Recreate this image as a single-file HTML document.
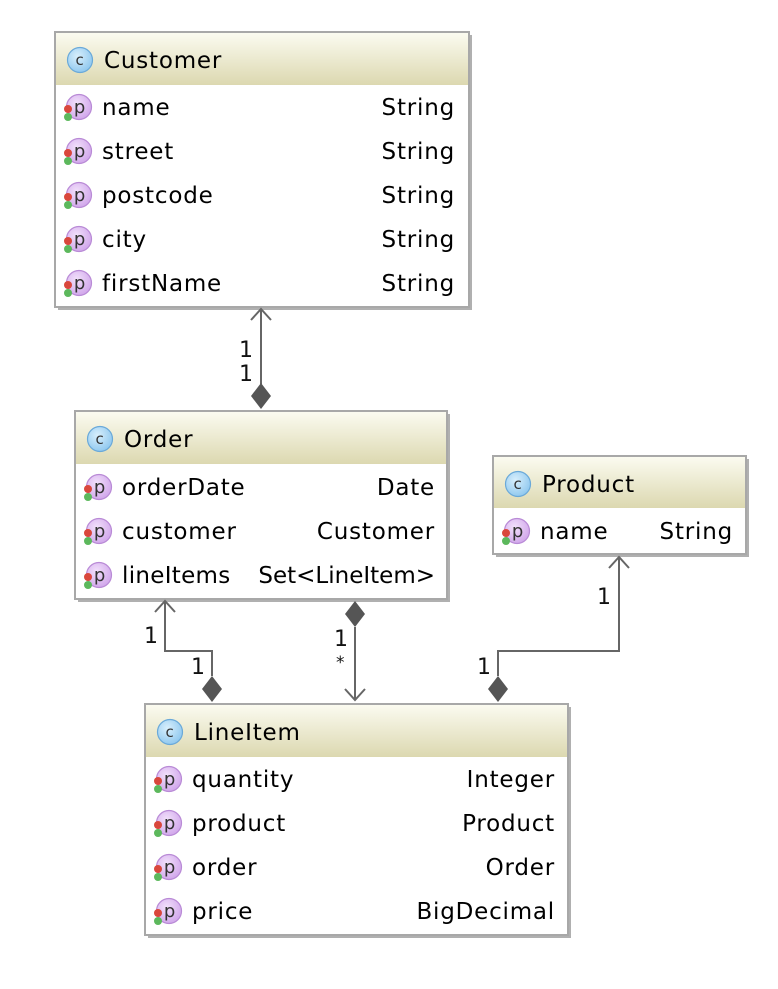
<!DOCTYPE html>
<html><head><meta charset="utf-8"><style>
body{margin:0;background:#fff;}
svg text{font-family:"DejaVu Sans","Liberation Sans",sans-serif;}
</style></head><body>
<svg width="778" height="984" viewBox="0 0 778 984" xmlns="http://www.w3.org/2000/svg">
<defs>
<linearGradient id="hg" x1="0" y1="0" x2="0" y2="1">
<stop offset="0" stop-color="#fbfbf0"/><stop offset="1" stop-color="#dcd8b0"/>
</linearGradient>
<radialGradient id="cg" cx="0.4" cy="0.35" r="0.7"><stop offset="0" stop-color="#d8effc"/><stop offset="1" stop-color="#8cc6ee"/></radialGradient>
<radialGradient id="pg" cx="0.4" cy="0.35" r="0.7"><stop offset="0" stop-color="#f2e0fb"/><stop offset="1" stop-color="#cfa4ea"/></radialGradient>
<g id="ci"><circle r="12.5" fill="url(#cg)" stroke="#6aa9d9" stroke-width="1.2"/><text x="0" y="5" font-size="15" text-anchor="middle" fill="#333">c</text></g>
<g id="pi"><circle r="12.5" fill="url(#pg)" stroke="#b98ad6" stroke-width="1.2"/><text x="1" y="6" font-size="18" text-anchor="middle" fill="#333">p</text><circle cx="-11" cy="2" r="4" fill="#d9473c"/><circle cx="-11" cy="10" r="4" fill="#5cb85c"/></g>
</defs>

<g letter-spacing="0.8">
<!-- Customer -->
<rect x="58" y="35" width="414" height="275" fill="#b0b0b0"/>
<rect x="55" y="32" width="414" height="275" fill="#fff" stroke="#a8a8a8" stroke-width="2"/>
<rect x="56" y="33" width="412" height="52" fill="url(#hg)"/>
<use href="#ci" x="80" y="60"/>
<text x="104" y="68" font-size="23">Customer</text>
<g font-size="23">
<use href="#pi" x="79" y="107"/><text x="102" y="115">name</text><text x="455" y="115" text-anchor="end">String</text>
<use href="#pi" x="79" y="151"/><text x="102" y="159">street</text><text x="455" y="159" text-anchor="end">String</text>
<use href="#pi" x="79" y="195"/><text x="102" y="203">postcode</text><text x="455" y="203" text-anchor="end">String</text>
<use href="#pi" x="79" y="239"/><text x="102" y="247">city</text><text x="455" y="247" text-anchor="end">String</text>
<use href="#pi" x="79" y="283"/><text x="102" y="291">firstName</text><text x="455" y="291" text-anchor="end">String</text>
</g>

<!-- Order -->
<rect x="78" y="414" width="372" height="188" fill="#b0b0b0"/>
<rect x="75" y="411" width="372" height="188" fill="#fff" stroke="#a8a8a8" stroke-width="2"/>
<rect x="76" y="412" width="370" height="52" fill="url(#hg)"/>
<use href="#ci" x="100" y="439"/>
<text x="124" y="447" font-size="23">Order</text>
<g font-size="23">
<use href="#pi" x="99" y="487"/><text x="122" y="495">orderDate</text><text x="435" y="495" text-anchor="end">Date</text>
<use href="#pi" x="99" y="531"/><text x="122" y="539">customer</text><text x="435" y="539" text-anchor="end">Customer</text>
<use href="#pi" x="99" y="575"/><text x="122" y="583" letter-spacing="0.3">lineItems</text><text x="435" y="583" text-anchor="end" letter-spacing="0">Set&lt;LineItem&gt;</text>
</g>

<!-- Product -->
<rect x="496" y="459" width="253" height="98" fill="#b0b0b0"/>
<rect x="493" y="456" width="253" height="98" fill="#fff" stroke="#a8a8a8" stroke-width="2"/>
<rect x="494" y="457" width="251" height="51" fill="url(#hg)"/>
<use href="#ci" x="518" y="484"/>
<text x="542" y="492" font-size="23">Product</text>
<g font-size="23">
<use href="#pi" x="517" y="531"/><text x="540" y="539">name</text><text x="733" y="539" text-anchor="end">String</text>
</g>

<!-- LineItem -->
<rect x="148" y="707" width="423" height="231" fill="#b0b0b0"/>
<rect x="145" y="704" width="423" height="231" fill="#fff" stroke="#a8a8a8" stroke-width="2"/>
<rect x="146" y="705" width="421" height="52" fill="url(#hg)"/>
<use href="#ci" x="170" y="732"/>
<text x="194" y="740" font-size="23">LineItem</text>
<g font-size="23">
<use href="#pi" x="169" y="779"/><text x="192" y="787">quantity</text><text x="555" y="787" text-anchor="end">Integer</text>
<use href="#pi" x="169" y="823"/><text x="192" y="831">product</text><text x="555" y="831" text-anchor="end">Product</text>
<use href="#pi" x="169" y="867"/><text x="192" y="875">order</text><text x="555" y="875" text-anchor="end">Order</text>
<use href="#pi" x="169" y="911"/><text x="192" y="919">price</text><text x="555" y="919" text-anchor="end">BigDecimal</text>
</g>
</g>

<!-- connectors -->
<g stroke="#666" stroke-width="2" fill="none">
<path d="M261 309 V384"/><path d="M251 320 L261 309 L271 320"/>
<path d="M165 601 V651 H212 V676"/><path d="M155 612 L165 601 L175 612"/>
<path d="M355 627 V700"/><path d="M345 689 L355 700 L365 689"/>
<path d="M498 676 V651 H619 V557"/><path d="M609 568 L619 557 L629 568"/>
</g>
<g fill="#555">
<path d="M261 383 L271 396 L261 409 L251 396Z"/>
<path d="M212 676 L222 689 L212 702 L202 689Z"/>
<path d="M355 601 L365 614 L355 627 L345 614Z"/>
<path d="M498 676 L508 689 L498 702 L488 689Z"/>
</g>
<g font-size="22" fill="#111">
<text x="239" y="357">1</text><text x="239" y="381">1</text>
<text x="144" y="643">1</text><text x="191" y="674">1</text>
<text x="334" y="646">1</text><text x="336" y="668" font-size="17">*</text>
<text x="477" y="674">1</text><text x="597" y="604">1</text>
</g>
</svg>
</body></html>
